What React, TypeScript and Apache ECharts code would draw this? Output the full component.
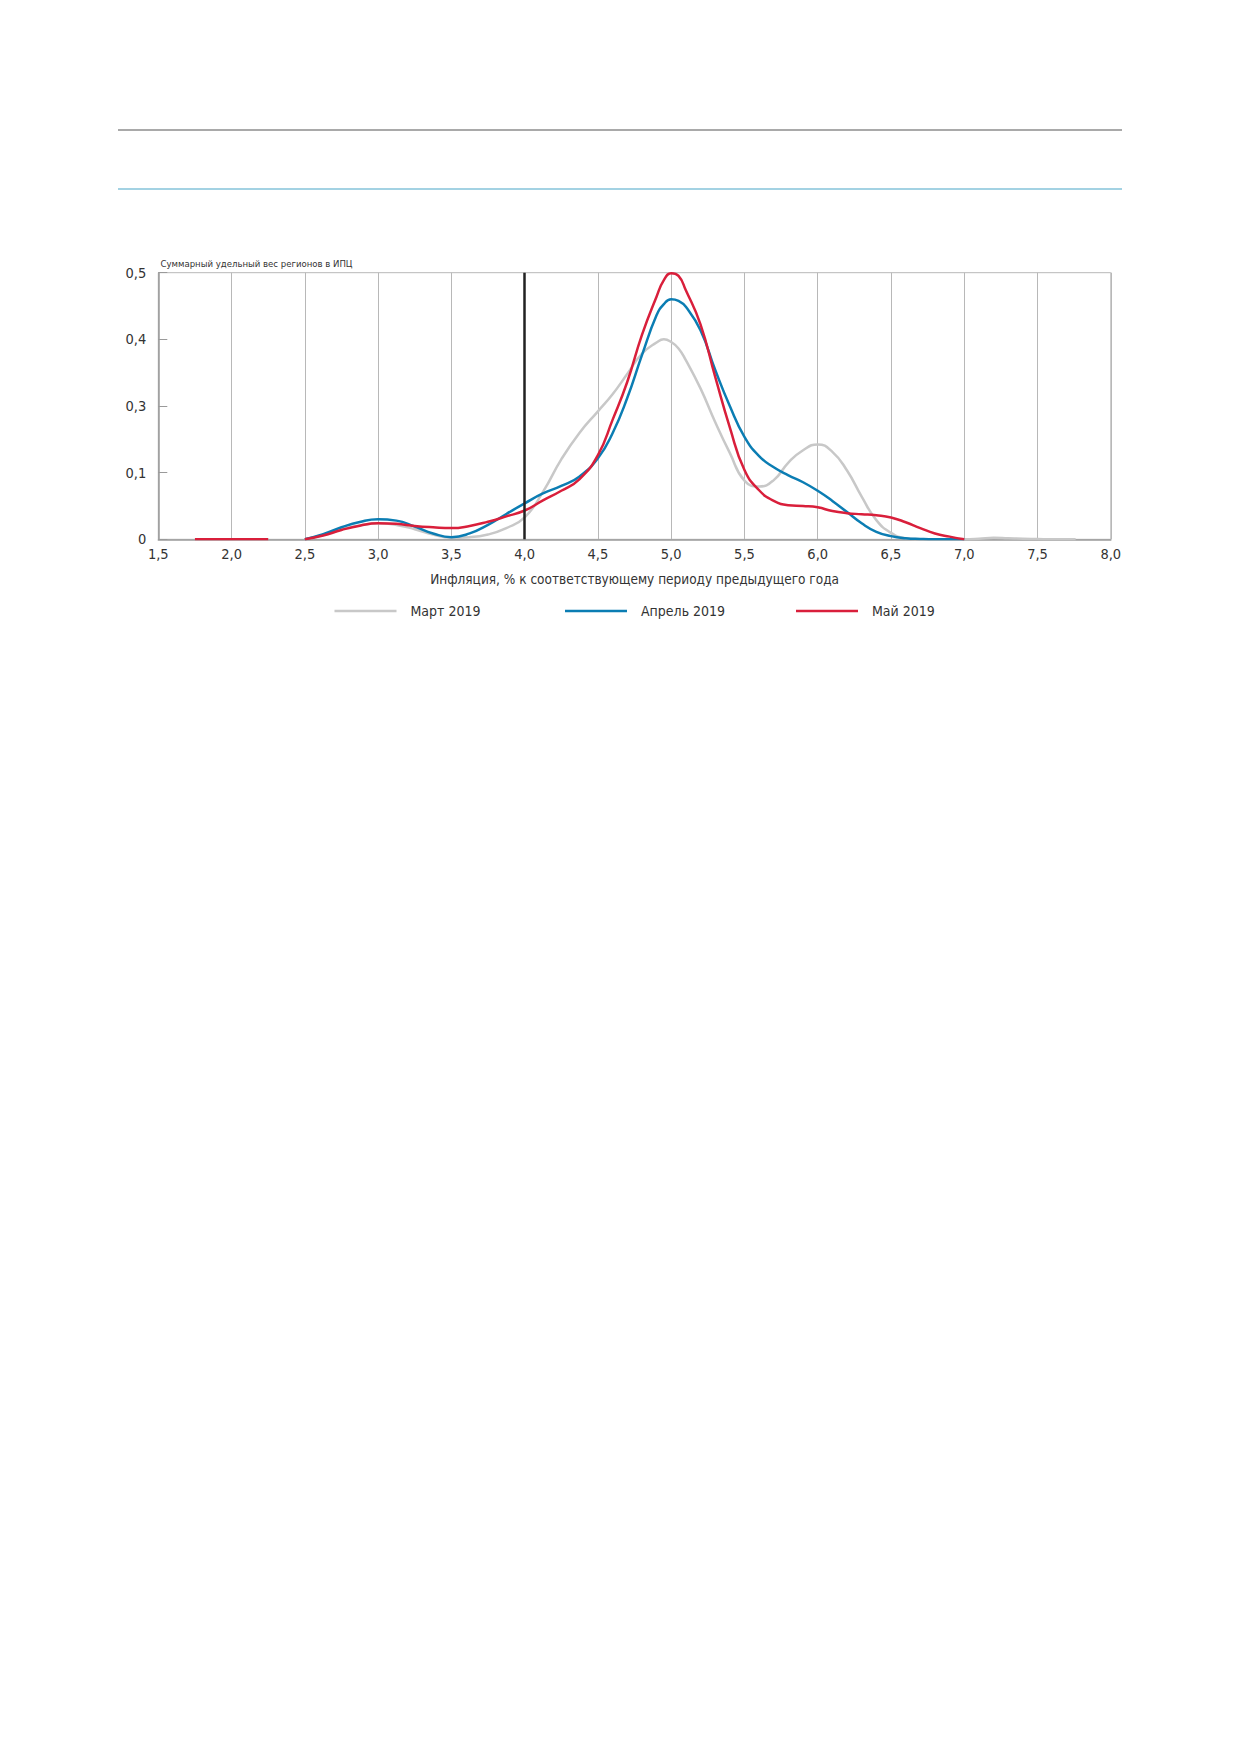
import React, { useEffect, useRef } from "react";
import * as echarts from "echarts";

// ---- data ----
const xMain = [
  2.5, 2.625, 2.75, 2.875, 3.0, 3.125, 3.25, 3.375, 3.5, 3.625, 3.75, 3.875, 4.0, 4.125, 4.25, 4.375, 4.5,
  4.6, 4.7, 4.8, 4.9, 4.95, 5.0, 5.05, 5.1, 5.2, 5.3, 5.4, 5.5, 5.6, 5.7, 5.8, 5.9, 6.0, 6.1, 6.2, 6.3, 6.4,
  6.5, 6.6, 6.7, 6.8, 6.9, 7.0,
];
const mar2019 = [
  0, 0.008, 0.019, 0.026, 0.03, 0.027, 0.019, 0.009, 0.003, 0.004, 0.009, 0.021, 0.041, 0.089, 0.15, 0.2, 0.24,
  0.272, 0.31, 0.348, 0.369, 0.375, 0.37, 0.358, 0.336, 0.283, 0.22, 0.162, 0.11, 0.099, 0.111, 0.144, 0.167,
  0.178, 0.164, 0.129, 0.08, 0.036, 0.012, 0.002, 0, 0, 0, 0,
];
const apr2019 = [
  0, 0.0094, 0.0225, 0.0325, 0.0375, 0.035, 0.024, 0.011, 0.004, 0.011, 0.027, 0.0475, 0.0675, 0.086, 0.1, 0.118, 0.152,
  0.199, 0.265, 0.345, 0.42, 0.441, 0.45, 0.447, 0.436, 0.392, 0.318, 0.25, 0.192, 0.156, 0.135, 0.12, 0.107,
  0.091, 0.072, 0.051, 0.03, 0.014, 0.006, 0.002, 0.0006, 0, 0, 0,
];
const may2019 = [
  0, 0.007, 0.0175, 0.0256, 0.03, 0.029, 0.025, 0.0225, 0.021, 0.025, 0.033, 0.043, 0.054, 0.073, 0.091, 0.113, 0.158,
  0.224, 0.295, 0.383, 0.455, 0.486, 0.499, 0.494, 0.467, 0.403, 0.305, 0.21, 0.13, 0.092, 0.072, 0.064, 0.0625,
  0.06, 0.053, 0.049, 0.047, 0.045, 0.041, 0.032, 0.021, 0.011, 0.005, 0,
];
const lowSegmentX = [1.75, 2.25];
const lowSegmentMar = [0, 0];
const lowSegmentMay = [0, 0];
const marTailX = [7.1, 7.2, 7.3, 7.4, 7.5, 7.6, 7.76];
const marTail = [0.001, 0.003, 0.002, 0.001, 0.0005, 0, 0];

const seriesNames = ["Март 2019", "Апрель 2019", "Май 2019"];
const xTickLabels = ["1,5", "2,0", "2,5", "3,0", "3,5", "4,0", "4,5", "5,0", "5,5", "6,0", "6,5", "7,0", "7,5", "8,0"];
const yTickLabels = ["0", "0,1", "0,3", "0,4", "0,5"];
const targetInflation = 4.0;
const xAxisTitle = "Инфляция, % к соответствующему периоду предыдущего года";
const yAxisTitle = "Суммарный удельный вес регионов в ИПЦ";

const FONT = "'DejaVu Sans Condensed', 'Liberation Sans Narrow', 'Liberation Sans', sans-serif";
const pairs = (xs: number[], ys: number[]) => xs.map((x, i) => [x, ys[i]]);
const GAP: any = [2.375, "-"];

export default function App() {
  const ref = useRef<HTMLDivElement>(null);
  useEffect(() => {
    if (!ref.current) return;
    const chart = echarts.init(ref.current, undefined, { renderer: "svg" });
    const plotLeft = 158.3;
    const plotRight = 1110.8;
    const plotTop = 272.7;
    const plotBottom = 539.3;
    const W = 1239;
    const H = 1752;
    const colors = ["#c8c8c8", "#0b7db3", "#d91f3b"];
    const legendLeft = [334.5, 565, 796];
    const smooth = 0.5;
    const option: any = {
      animation: false,
      backgroundColor: "#ffffff",
      textStyle: { fontFamily: FONT },
      grid: {
        left: plotLeft,
        right: W - plotRight,
        top: plotTop,
        bottom: H - plotBottom,
        show: true,
        borderColor: "#b8b8b8",
        borderWidth: 1,
      },
      legend: seriesNames.map((n, i) => ({
        data: [n],
        left: legendLeft[i],
        top: 604,
        padding: 0,
        itemWidth: 62,
        itemHeight: 20,
        icon: "path://M0,9H62V11.5H0Z",
        itemStyle: { color: colors[i] },
        textStyle: { fontFamily: FONT, fontSize: 14, color: "#333", padding: [0, 0, 0, 9] },
        selectedMode: false,
      })),
      xAxis: {
        type: "value",
        min: 1.5,
        max: 8,
        interval: 0.5,
        name: xAxisTitle,
        nameLocation: "middle",
        nameGap: 33,
        nameTextStyle: { fontFamily: FONT, fontSize: 13.5, color: "#333" },
        axisLine: { show: true, lineStyle: { color: "#9a9a9a", width: 1.5 } },
        axisTick: { show: false },
        axisLabel: {
          fontFamily: FONT,
          fontSize: 14.5,
          color: "#333",
          margin: 7,
          formatter: (v: number) => xTickLabels[Math.round((v - 1.5) / 0.5)] ?? "",
        },
        splitLine: { show: true, lineStyle: { color: "#b8b8b8", width: 1 } },
      },
      yAxis: {
        type: "value",
        min: 0,
        max: 0.5,
        interval: 0.125,
        axisLine: { show: true, lineStyle: { color: "#9a9a9a", width: 1.5 } },
        axisTick: { show: true, inside: true, length: 9, lineStyle: { color: "#9a9a9a" } },
        axisLabel: {
          fontFamily: FONT,
          fontSize: 14.5,
          color: "#333",
          margin: 12,
          formatter: (v: number) => yTickLabels[Math.round(v / 0.125)] ?? "",
        },
        splitLine: { show: false },
      },
      graphic: [
        {
          type: "line",
          shape: { x1: 118, y1: 130, x2: 1122, y2: 130 },
          style: { stroke: "#a9a9a9", lineWidth: 2 },
        },
        {
          type: "line",
          shape: { x1: 118, y1: 189, x2: 1122, y2: 189 },
          style: { stroke: "#a3d2e3", lineWidth: 2 },
        },
        {
          type: "text",
          x: 160.5,
          y: 263.5,
          style: {
            text: yAxisTitle,
            fontFamily: FONT,
            fontSize: 9.5,
            fill: "#333",
            verticalAlign: "middle",
          },
        },
      ],
      series: [
        {
          name: seriesNames[0],
          type: "line",
          smooth,
          showSymbol: false,
          z: 2,
          lineStyle: { color: colors[0], width: 2.5 },
          itemStyle: { color: colors[0] },
          data: [...pairs(lowSegmentX, lowSegmentMar), GAP, ...pairs(xMain, mar2019), ...pairs(marTailX, marTail)],
          markLine: {
            silent: true,
            symbol: "none",
            label: { show: false },
            lineStyle: { color: "#222222", width: 2.5, type: "solid" },
            data: [{ xAxis: targetInflation }],
          },
        },
        {
          name: seriesNames[1],
          type: "line",
          smooth,
          showSymbol: false,
          z: 3,
          lineStyle: { color: colors[1], width: 2.5 },
          itemStyle: { color: colors[1] },
          data: pairs(xMain, apr2019),
        },
        {
          name: seriesNames[2],
          type: "line",
          smooth,
          showSymbol: false,
          z: 4,
          lineStyle: { color: colors[2], width: 2.5 },
          itemStyle: { color: colors[2] },
          data: [...pairs(lowSegmentX, lowSegmentMay), GAP, ...pairs(xMain, may2019)],
        },
      ],
    };
    chart.setOption(option);
    return () => chart.dispose();
  }, []);
  return (
    <div
      ref={ref}
      style={{ position: "absolute", left: 0, top: 0, width: 1239, height: 1752, background: "#fff" }}
    />
  );
}
